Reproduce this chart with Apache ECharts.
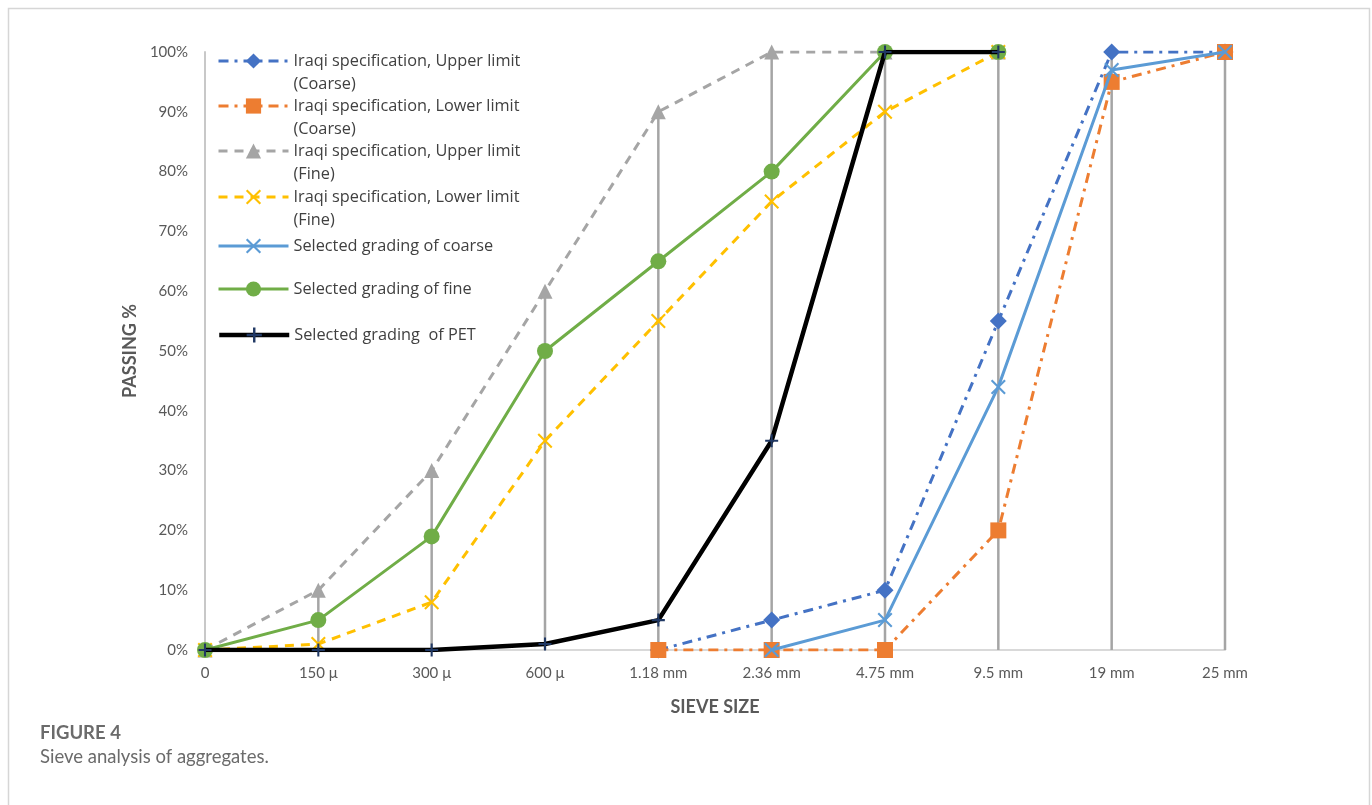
<!DOCTYPE html>
<html>
<head>
<meta charset="utf-8">
<script src="https://cdn.jsdelivr.net/npm/echarts@6/dist/echarts.min.js"></script>
<style>
html,body{margin:0;padding:0;background:#fff;}
#chart{width:1372px;height:805px;}
</style>
</head>
<body>
<div id="chart"></div>
<script>
const categories = ['0', '150 μ', '300 μ', '600 μ', '1.18 mm', '2.36 mm', '4.75 mm', '9.5 mm', '19 mm', '25 mm'];
const upperCoarse = [null, null, null, null, 0, 5, 10, 55, 100, 100];
const lowerCoarse = [null, null, null, null, 0, 0, 0, 20, 95, 100];
const upperFine   = [0, 10, 30, 60, 90, 100, 100, 100, null, null];
const lowerFine   = [0, 1, 8, 35, 55, 75, 90, 100, null, null];
const selCoarse   = [null, null, null, null, null, 0, 5, 44, 97, 100];
const selFine     = [0, 5, 19, 50, 65, 80, 100, 100, null, null];
const selPET      = [0, 0, 0, 1, 5, 35, 100, 100, null, null];
const yTicks = [0, 10, 20, 30, 40, 50, 60, 70, 80, 90, 100];

const names = [
  'Iraqi specification, Upper limit (Coarse)',
  'Iraqi specification, Lower limit (Coarse)',
  'Iraqi specification, Upper limit (Fine)',
  'Iraqi specification, Lower limit (Fine)',
  'Selected grading of coarse',
  'Selected grading of fine',
  'Selected grading  of PET'
];

const FONT = 'Lato, "Open Sans", sans-serif';
const LEG_FONT = '"Open Sans", Lato, sans-serif';
const X_PATH = 'path://M1,0 L5,4 L9,0 L10,1 L6,5 L10,9 L9,10 L5,6 L1,10 L0,9 L4,5 L0,1 Z';
const PLUS_PATH = 'path://M4.2,0 H5.8 V4.2 H10 V5.8 H5.8 V10 H4.2 V5.8 H0 V4.2 H4.2 Z';

const allSeries = [upperCoarse, lowerCoarse, upperFine, lowerFine, selCoarse, selFine, selPET];
const dropData = categories.map((c, i) => {
  let m = 0;
  allSeries.forEach(s => { if (s[i] != null && s[i] > m) m = s[i]; });
  return [i, m];
});

const chart = echarts.init(document.getElementById('chart'));

const legendCenters = [61, 106, 151, 197, 246, 289, 335];
const legendWidths = [3, 3, 3, 3, 3, 3, 4.5];
const LH = 23;
const legends = names.map((n, i) => {
  const two = n.indexOf(' (') >= 0;
  return {
    data: [n],
    orient: 'vertical',
    left: 217,
    top: legendCenters[i] - (two ? 1.5 * LH : 0.5 * LH),
    padding: 0,
    itemWidth: 70,
    itemHeight: 19,
    itemGap: 0,
    selectedMode: false,
    lineStyle: { width: legendWidths[i] },
    formatter: name => name.indexOf(' (') >= 0 ? '\n' + name.replace(' (', '\n(') : name,
    textStyle: { fontFamily: LEG_FONT, fontSize: 16.3, color: '#404040', lineHeight: LH }
  };
});

function lineSeries(name, data, color, lineType, width, symbol, size, symColor, z) {
  return {
    name: name, type: 'line', data: data, z: z,
    symbol: symbol, symbolSize: size, showSymbol: true,
    lineStyle: { color: color, width: width, type: lineType },
    itemStyle: { color: symColor || color, borderWidth: 0 },
    emphasis: { disabled: true },
    animation: false
  };
}

chart.setOption({
  animation: false,
  backgroundColor: '#ffffff',
  grid: { left: 205, right: 147, top: 52, bottom: 155, containLabel: false },
  legend: legends,
  xAxis: {
    type: 'category',
    data: categories,
    boundaryGap: false,
    name: 'SIEVE SIZE',
    nameLocation: 'middle',
    nameGap: 48,
    nameTextStyle: { fontFamily: FONT, fontSize: 18, fontWeight: 'bold', color: '#595959' },
    axisLine: { show: true, lineStyle: { color: '#D9D9D9', width: 2 } },
    axisTick: { show: false },
    axisLabel: { fontFamily: FONT, fontSize: 15, color: '#595959', margin: 16 },
    splitLine: { show: false }
  },
  yAxis: [{
    type: 'value',
    min: 0, max: 100, interval: 10,
    name: 'PASSING %',
    nameLocation: 'middle',
    nameGap: 64,
    nameRotate: 90,
    nameTextStyle: { fontFamily: FONT, fontSize: 18, fontWeight: 'bold', color: '#595959' },
    axisLine: { show: true, lineStyle: { color: '#C8C8C8', width: 2 } },
    axisTick: { show: false },
    axisLabel: { fontFamily: FONT, fontSize: 15, color: '#595959', margin: 17,
      formatter: v => yTicks.indexOf(v) >= 0 ? v + '%' : '' },
    splitLine: { show: false }
  }],
  graphic: [
    { type: 'rect', silent: true, shape: { x: 8.5, y: 8.5, width: 1361, height: 900 },
      style: { fill: 'none', stroke: '#D6D6D6', lineWidth: 1.5 } },
    { type: 'text', left: 40, top: 724, silent: true,
      style: { text: 'FIGURE 4', fontFamily: FONT, fontSize: 18.5, fontWeight: 'bold', fill: '#6b6b6b' } },
    { type: 'text', left: 40, top: 748, silent: true,
      style: { text: 'Sieve analysis of aggregates.', fontFamily: FONT, fontSize: 18.5, fill: '#6b6b6b' } }
  ],
  series: [
    {
      type: 'custom', name: 'drop', z: 1, silent: true,
      data: dropData,
      renderItem: (params, api) => {
        const b = api.coord([api.value(0), 0]);
        const t = api.coord([api.value(0), api.value(1)]);
        return { type: 'line', shape: { x1: b[0], y1: b[1], x2: t[0], y2: t[1] },
          style: { stroke: '#A5A5A5', lineWidth: 2.5 } };
      }
    },
    lineSeries(names[0], upperCoarse, '#4472C4', [10, 6, 3, 6], 3, 'diamond', 17, null, 2),
    lineSeries(names[1], lowerCoarse, '#ED7D31', [10, 6, 3, 6], 3, 'rect', 16, null, 3),
    lineSeries(names[2], upperFine, '#A5A5A5', [9, 7], 3, 'triangle', 15, null, 4),
    lineSeries(names[3], lowerFine, '#FFC000', [9, 7], 3, X_PATH, 15, null, 5),
    lineSeries(names[4], selCoarse, '#5B9BD5', 'solid', 3, X_PATH, 15, null, 6),
    lineSeries(names[5], selFine, '#70AD47', 'solid', 3, 'circle', 16, null, 7),
    lineSeries(names[6], selPET, '#000000', 'solid', 4.5, PLUS_PATH, 13, '#203864', 8)
  ]
});
</script>
</body>
</html>
